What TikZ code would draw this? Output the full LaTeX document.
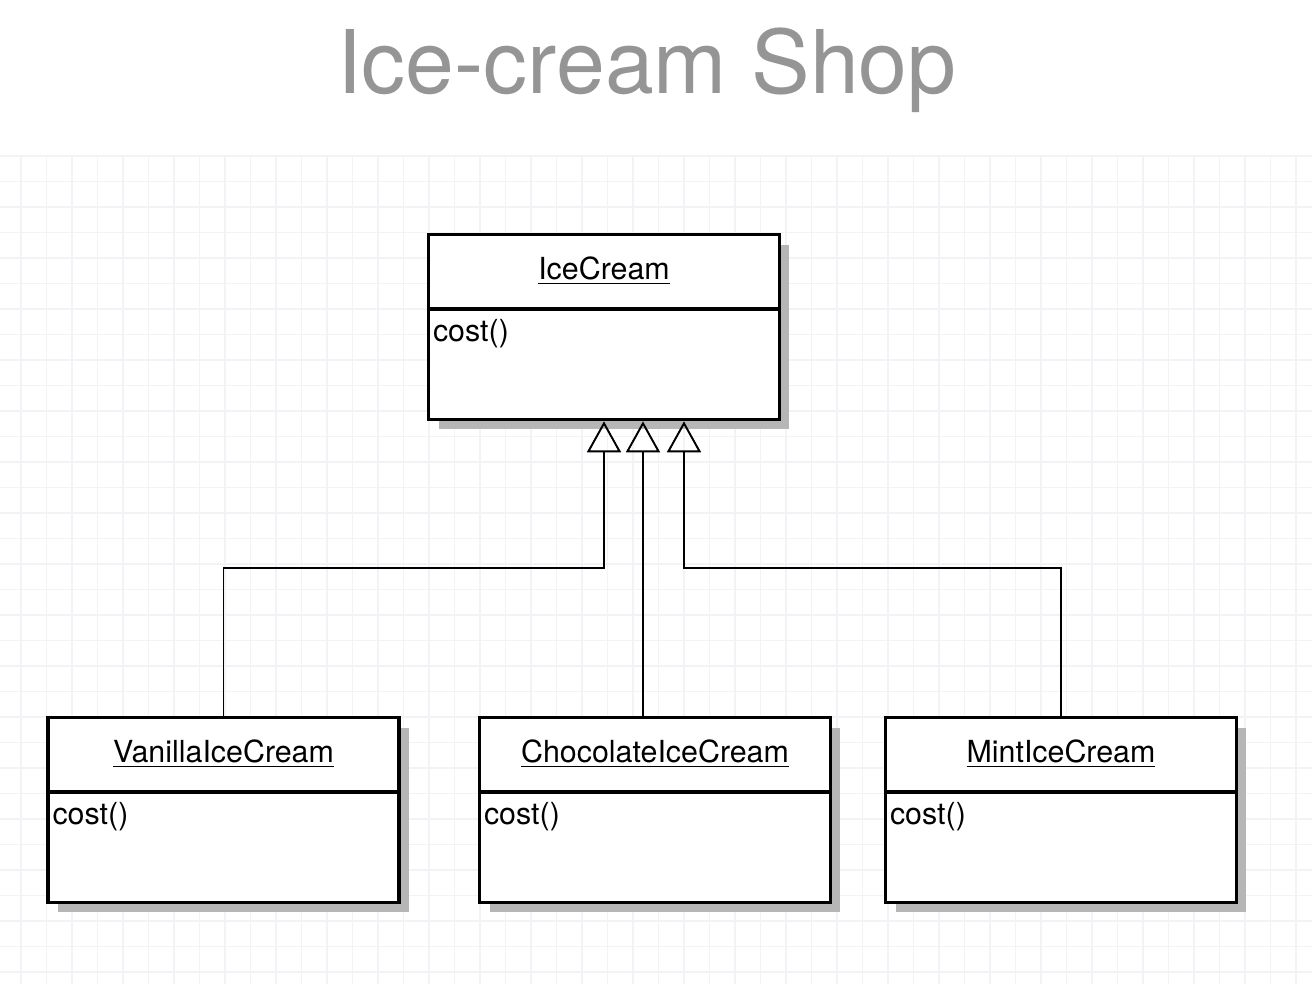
\documentclass[tikz,border=0pt]{standalone}
\usepackage{fontspec}
\setmainfont{TeX Gyre Heros}
\usepackage{tikz}
\usetikzlibrary{arrows.meta}
\usetikzlibrary{shadows}

\definecolor{titlegray}{RGB}{149,149,149}
\definecolor{shadowgray}{RGB}{182,182,182}
\definecolor{gridgray}{RGB}{242,242,247}

\begin{document}
\begin{tikzpicture}[x=0.02cm,y=-0.02cm,
    classbox/.style={draw,fill=white,line width=2.1pt,minimum width=7.02cm,minimum height=3.7cm,
      drop shadow={shadow xshift=0.2cm,shadow yshift=-0.2cm,fill=shadowgray,opacity=1}},
    classname/.style={font=\fontsize{17.3}{20}\selectfont,inner sep=0pt},
    method/.style={font=\fontsize{17.3}{20}\selectfont,inner sep=0pt,anchor=base west},
    inherit/.style={line width=1.1pt,-{Triangle[open,length=0.62cm,width=0.68cm]}}]
      \useasboundingbox (0,0) rectangle (1312,984);
%      \draw[style=help lines] (0,0) grid (1312,984);
      \foreach \gx in {21,46.5,...,1312}
        \draw[gridgray,line width=0.6pt] (\gx,156) -- (\gx,984);
      \foreach \gy in {156,181.5,...,984}
        \draw[gridgray,line width=0.6pt] (0,\gy) -- (1312,\gy);
      \node[font=\fontsize{50}{60}\selectfont,text=titlegray,anchor=base] (heading) at (647,93) {Ice-cream Shop};
      % the classes
      \foreach \name/\pos/\label in {ice/{(604,327)}/IceCream,van/{(223.5,810)}/VanillaIceCream,
          choc/{(655,810)}/ChocolateIceCream,mint/{(1061,810)}/MintIceCream} {
        \node[classbox] (\name) at \pos {};
        \draw[line width=2.1pt] ([yshift=-1.52cm]\name.north west) -- ([yshift=-1.52cm]\name.north east);
        \node[classname] (\name-title) at ([yshift=-0.76cm]\name.north) {\underline{\label}};
        \node[method] (\name-cost) at ([shift={(0.12cm,-2.18cm)}]\name.north west) {cost()};
      }
      % generalisation arrows
      \coordinate (tipA) at (ice.south);
      \coordinate (tipB) at ([xshift=0.78cm]ice.south);
      \coordinate (tipC) at ([xshift=1.6cm]ice.south);
      \coordinate (jointA) at (tipA |- 0,568);
      \coordinate (jointC) at (tipC |- 0,568);
      \draw[inherit] (van.north) |- (jointA) -- (tipA);
      \draw[inherit] (tipB |- choc.north) -- (tipB);
      \draw[inherit] (mint.north) |- (jointC) -- (tipC);
    \end{tikzpicture}
\end{document}
